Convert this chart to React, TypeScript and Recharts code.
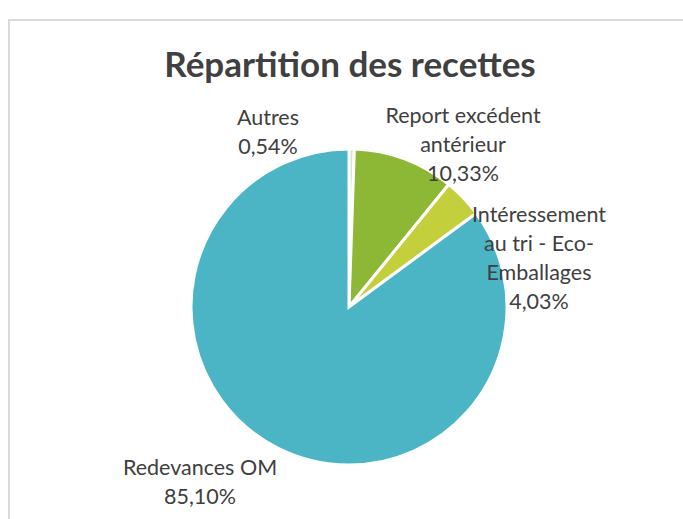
import React from 'react';
import { PieChart, Pie, Cell } from 'recharts';

const categories = ['Autres', 'Report excédent antérieur', 'Intéressement au tri - Eco-Emballages', 'Redevances OM'];
const values = [0.54, 10.33, 4.03, 85.1];
const labelLines = [
  ['Autres', '0,54%'],
  ['Report excédent', 'antérieur', '10,33%'],
  ['Intéressement', 'au tri - Eco-', 'Emballages', '4,03%'],
  ['Redevances OM', '85,10%'],
];
const colors = ['#d9e3c2', '#8db836', '#c3d03c', '#4bb5c6'];

const data = categories.map((name, i) => ({ name, value: values[i] }));

// label placement relative to the pie centre (x offset, y offset of first line)
const labelLayout = [
  { dx: -81, dy: -190 },
  { dx: 114, dy: -192 },
  { dx: 190, dy: -93 },
  { dx: -149, dy: 160 },
];
const lineGap = 29;

const renderLabel = (props: any) => {
  const { cx, cy, index } = props;
  const lay = labelLayout[index];
  const lines = labelLines[index];
  return (
    <text
      x={cx + lay.dx}
      y={cy + lay.dy}
      textAnchor="middle"
      dominantBaseline="central"
      fill="#404040"
      style={{ fontFamily: 'Lato, sans-serif', fontSize: 21.5 }}
    >
      {lines.map((l, k) => (
        <tspan key={k} x={cx + lay.dx} y={cy + lay.dy + k * lineGap}>
          {l}
        </tspan>
      ))}
    </text>
  );
};

export default function App() {
  return (
    <div style={{ position: 'absolute', left: 0, top: 0, width: 683, height: 519, background: '#fff', overflow: 'hidden' }}>
      <div style={{ position: 'absolute', left: 8, top: 19, width: 720, height: 560, border: '2px solid #d9d9d9', boxSizing: 'border-box' }} />
      <div
        style={{
          position: 'absolute',
          left: 0,
          width: 700,
          top: 40,
          textAlign: 'center',
          fontFamily: 'Lato, sans-serif',
          fontWeight: 'bold',
          fontSize: 35,
          color: '#404040',
          lineHeight: '46px',
        }}
      >
        Répartition des recettes
      </div>
      <div style={{ position: 'absolute', left: 0, top: 0 }}>
        <PieChart width={683} height={519} margin={{ top: 0, right: 0, bottom: 0, left: 0 }}>
          <Pie
            data={data}
            dataKey="value"
            nameKey="name"
            cx={349}
            cy={307}
            outerRadius={158}
            startAngle={90}
            endAngle={-270}
            stroke="#ffffff"
            strokeWidth={3}
            label={renderLabel}
            labelLine={false}
            isAnimationActive={false}
          >
            {data.map((d, i) => (
              <Cell key={d.name} fill={colors[i]} />
            ))}
          </Pie>
        </PieChart>
      </div>
    </div>
  );
}
